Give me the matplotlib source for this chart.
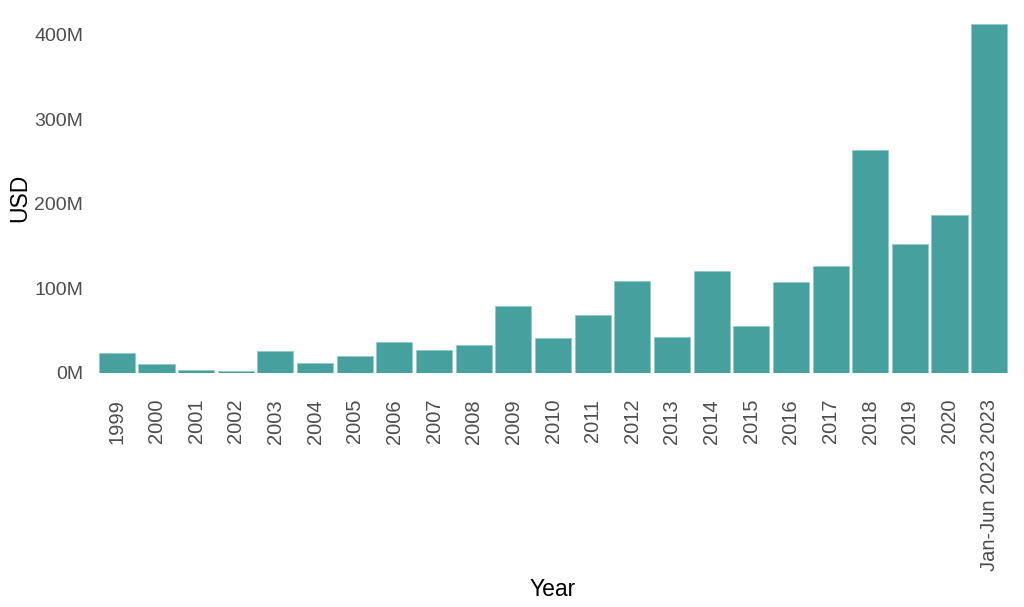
import numpy as np
import matplotlib.pyplot as plt
from matplotlib.ticker import FuncFormatter

# values (USD millions)
years = ['1999', '2000', '2001', '2002', '2003', '2004', '2005', '2006',
         '2007', '2008', '2009', '2010', '2011', '2012', '2013', '2014',
         '2015', '2016', '2017', '2018', '2019', '2020', 'Jan-Jun 2023 2023']
usd_m = [23.4, 10.4, 2.6, 1.4, 25.8, 11.2, 19.5, 36.0,
         26.3, 32.5, 78.3, 40.5, 68.0, 108.6, 41.6, 119.8,
         54.7, 106.7, 126.0, 263.0, 151.7, 186.0, 412.8]
yticks = [0, 100, 200, 300, 400]

plt.rcParams['font.family'] = ['Liberation Sans', 'DejaVu Sans']

fig = plt.figure(figsize=(10.24, 6.07), dpi=100)
# plot area: top of the tallest bar down to the zero line
ax = fig.add_axes([97 / 1024, 234.5 / 607, 912 / 1024, 348.8 / 607])

x = np.arange(len(years))
ax.bar(x, usd_m, width=0.91, color='#45a09e', edgecolor='#8fcac7', linewidth=0.6)

ax.set_xlim(-0.5, len(years) - 0.5)
ax.set_ylim(0, max(usd_m))
ax.set_yticks(yticks)
ax.yaxis.set_major_formatter(FuncFormatter(lambda v, p: f'{int(v)}M'))
ax.set_xticks(x)
ax.set_xticklabels(years, rotation=90, va='top', ha='center')

ax.tick_params(axis='both', length=0, labelcolor='#4d4d4d')
ax.tick_params(axis='x', pad=19, labelsize=14.5)
ax.tick_params(axis='y', pad=10, labelsize=14)
for s in ax.spines.values():
    s.set_visible(False)

ax.set_ylabel('USD', fontsize=16.5, color='black', labelpad=2)
ax.set_xlabel('Year', fontsize=16.5, color='black', labelpad=5)

fig.savefig('out.png', dpi=100)
